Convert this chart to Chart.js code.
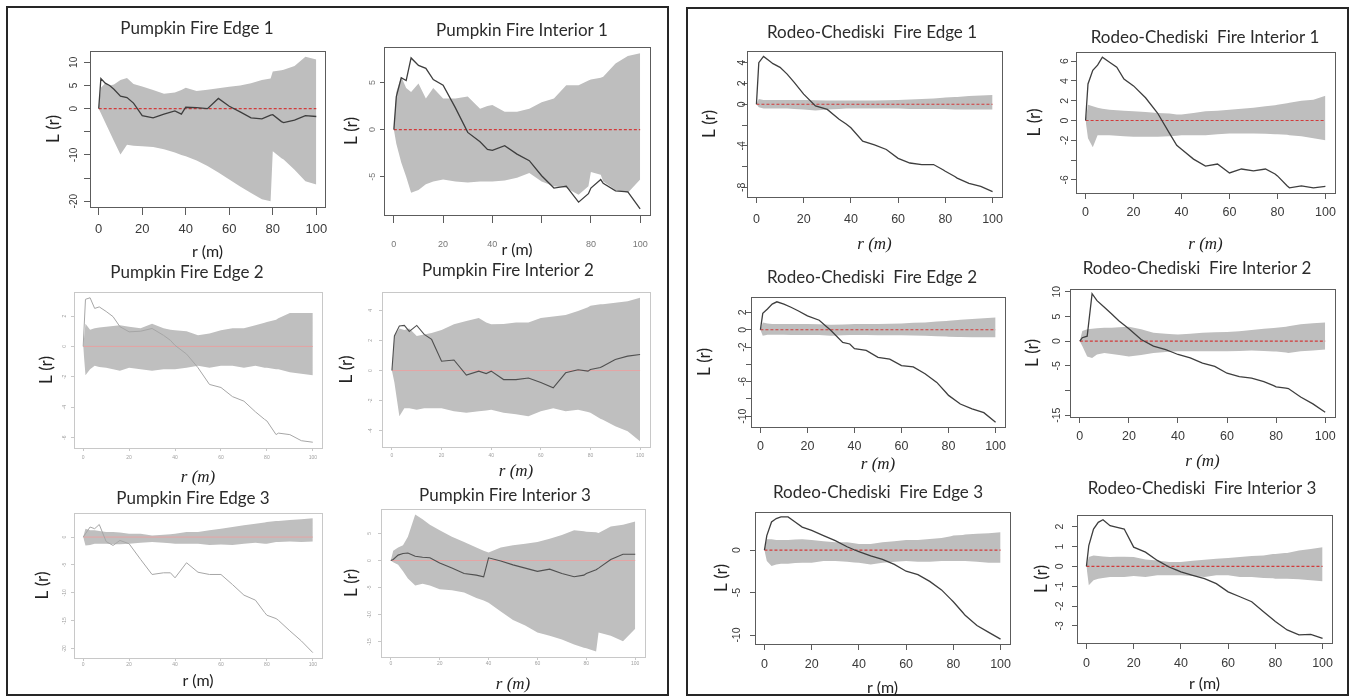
<!DOCTYPE html>
<html>
<head>
<meta charset="utf-8">
<script src="https://cdn.jsdelivr.net/npm/chart.js@4.4.1/dist/chart.umd.min.js"></script>
<style>
  html, body { margin: 0; padding: 0; background: #fff; overflow: hidden; }
  body { position: relative; width: 1351px; height: 697px; }
  canvas { position: absolute; }
  .frame { position: absolute; border: 2px solid #262626; box-sizing: border-box; }
</style>
</head>
<body>
<div class="frame" style="left:6px;top:6px;width:663px;height:690px"></div>
<div class="frame" style="left:686px;top:7px;width:663px;height:689px"></div>
<script>
// distance r (m), shared by every panel
const rVals = [0,1,3,5,7,10,13,16,20,25,30,35,38,40,45,50,55,60,65,70,75,79,80,84,85,90,95,100];
const xTicks = [0,20,40,60,80,100];
// theoretical L(r) = 0 reference
const refR = [0, 100];
const refL = [0, 0];

// Pumpkin Fire Edge 1
const pumpkinEdge1Upper = [0,4.5,5.5,5,5.2,6.2,6.6,5.3,4.8,4,3.2,3.5,4,4.5,3.8,4.1,4.4,4.7,5,5.5,6.2,6.5,8,8.3,8.4,9.2,11.2,10.6];
const pumpkinEdge1Lower = [0,-1,-3,-5,-7,-9.9,-7.8,-8,-8.1,-8.3,-8.8,-9.5,-10,-10.3,-11.2,-12.4,-13.8,-15.3,-16.8,-18.2,-19.6,-20,-9.2,-10.7,-11,-13.2,-15.7,-16.4];
const pumpkinEdge1Obs = [0,6.5,5.5,5,4.2,2.7,2.4,1.2,-1.5,-2,-1.2,-0.5,-1.2,0.3,0.2,0,2.2,0.5,-0.7,-2,-2.2,-1.4,-1.3,-2.8,-3,-2.5,-1.5,-1.7];

// Pumpkin Fire Interior 1
const pumpkinInt1Upper = [0,4,5.6,4.4,4,4.9,3.3,4.4,3.3,3.3,3.5,2.2,2.5,2.6,1.9,1.9,2.2,2.9,3.3,4.7,4.7,5.2,5.3,5.5,5.6,7,7.8,8.1];
const pumpkinInt1Lower = [0,-1.5,-3.5,-5,-6.7,-6.4,-5.8,-5.5,-5.3,-5.5,-5.6,-5.5,-5.5,-5.5,-5.4,-5.1,-4.6,-5.5,-6,-6.2,-6.9,-6,-4.5,-4.8,-5.5,-6.4,-6.7,-5.3];
const pumpkinInt1Obs = [0,3.5,5.5,5.2,7.6,6.8,6.5,5.3,4.7,2.3,-0.3,-1.3,-2.1,-2.2,-1.7,-2.6,-3.3,-4.9,-6.2,-6,-7.7,-6.8,-6.2,-5.3,-5.7,-6.5,-6.6,-8.4];

// Pumpkin Fire Edge 2
const pumpkinEdge2Upper = [0,1.5,1.1,1.2,1.25,1.3,1.35,1.4,1.3,1.2,1.5,1.2,1.1,1.07,1,0.73,0.85,1.07,1.2,1.2,1.4,1.55,1.6,1.75,1.85,2.2,2.2,2.2];
const pumpkinEdge2Lower = [0,-1.9,-1.5,-1.27,-1.35,-1.4,-1.5,-1.6,-1.4,-1.5,-1.6,-1.5,-1.5,-1.5,-1.4,-1.27,-1.4,-1.27,-1.27,-1.4,-1.27,-1.4,-1.4,-1.5,-1.5,-1.7,-1.8,-1.9];
const pumpkinEdge2Obs = [0,3.1,3.2,2.5,2.6,2.3,1.96,1.3,0.96,1.0,1.18,0.73,0.4,0.07,-0.5,-1.4,-2.5,-2.7,-3.3,-3.6,-4.3,-4.8,-4.9,-5.8,-5.7,-5.8,-6.2,-6.3];

// Pumpkin Fire Interior 2
const pumpkinInt2Upper = [0,2.3,2.8,2.7,2.8,2.3,2.4,2.5,2.7,3.07,3.3,3.5,3.2,3.07,3.1,3.2,3.2,3.5,3.6,3.7,3.96,4.2,4.3,4.4,4.4,4.5,4.6,4.84];
const pumpkinInt2Lower = [0,-0.8,-3.04,-2.5,-2.5,-2.6,-2.5,-2.5,-2.5,-2.7,-2.8,-2.7,-2.65,-2.6,-2.8,-2.9,-3.04,-2.7,-2.5,-2.7,-2.6,-2.75,-2.8,-3.2,-3.27,-3.7,-4.04,-4.7];
const pumpkinInt2Obs = [0,2.3,2.96,3.0,2.6,3.0,2.4,2.07,0.62,0.7,-0.3,-0.04,-0.2,-0.04,-0.6,-0.6,-0.5,-0.8,-1.15,-0.15,0.05,-0.04,0.07,0.2,0.29,0.73,0.96,1.07];

// Pumpkin Fire Edge 3
const pumpkinEdge3Upper = [0,1.5,1.2,1.2,1.1,0.9,0.9,0.8,0.6,0.6,0.3,0.4,0.5,0.6,0.9,0.9,1.2,1.5,1.8,2.1,2.4,2.6,2.7,2.9,2.9,3.05,3.2,3.35];
const pumpkinEdge3Lower = [0,-1.5,-1.4,-1.2,-1.2,-1.2,-1.3,-1.3,-1.2,-1.0,-0.9,-1.0,-1.1,-1.2,-1.2,-1.2,-1.4,-1.35,-1.4,-1.2,-1.0,-1.2,-1.2,-0.9,-0.9,-0.8,-0.9,-0.8];
const pumpkinEdge3Obs = [0,0.6,1.8,1.5,2.25,-0.8,-1.5,-0.6,-1.2,-4,-6.7,-6.4,-6.4,-7.3,-4.6,-6.3,-6.7,-6.7,-8.5,-10.4,-11.3,-13.5,-14,-14.6,-14.9,-16.8,-18.6,-20.7];

// Pumpkin Fire Interior 3
const pumpkinInt3Upper = [0,1.8,2.4,2.8,4.4,8.5,7.6,6.6,5.6,4.4,3.4,2.4,1.8,1.5,2.4,2.8,3.1,3.4,4.0,4.7,5.6,5.4,5.3,5.2,5.1,6.3,6.6,7.2];
const pumpkinInt3Lower = [0,-0.3,-0.8,-2,-3.3,-4.6,-4.3,-4.6,-5.3,-5.5,-5.9,-6.9,-7.4,-7.8,-9.4,-11,-12,-13.3,-13.9,-14.6,-15.5,-16.1,-16.2,-16.8,-13.3,-13.9,-14.9,-12.6];
const pumpkinInt3Obs = [0,0.2,1.0,1.3,1.4,0.8,0.6,0.5,-0.45,-1.4,-2.4,-2.7,-3.0,0.5,-0.1,-0.8,-1.4,-2,-1.6,-2.4,-3,-2.7,-2.4,-1.7,-1.4,0.2,1.15,1.15];

// Rodeo-Chediski Fire Edge 1
const rodeoEdge1Upper = [0,0.5,0.4,0.4,0.4,0.4,0.4,0.4,0.4,0.38,0.35,0.35,0.35,0.35,0.35,0.35,0.38,0.4,0.45,0.5,0.55,0.62,0.65,0.7,0.7,0.8,0.85,0.9];
const rodeoEdge1Lower = [0,-0.3,-0.4,-0.4,-0.4,-0.4,-0.4,-0.45,-0.5,-0.6,-0.5,-0.45,-0.4,-0.4,-0.4,-0.4,-0.4,-0.4,-0.45,-0.45,-0.45,-0.45,-0.45,-0.5,-0.5,-0.5,-0.5,-0.5];
const rodeoEdge1Obs = [0,4.0,4.6,4.25,3.9,3.55,2.9,2.1,0.97,-0.16,-0.5,-1.45,-1.9,-2.26,-3.55,-3.9,-4.35,-5.2,-5.65,-5.8,-5.8,-6.3,-6.45,-6.95,-7.1,-7.6,-7.9,-8.4];

// Rodeo-Chediski Fire Interior 1
const rodeoInt1Upper = [0,1.6,1.45,1.3,1.2,1.1,1.05,1.0,0.93,0.85,0.76,0.7,0.62,0.6,0.75,0.93,1.0,1.1,1.2,1.3,1.45,1.55,1.6,1.75,1.8,2.0,2.1,2.5];
const rodeoInt1Lower = [0,-1.8,-2.7,-1.5,-1.5,-1.5,-1.55,-1.6,-1.65,-1.65,-1.65,-1.6,-1.55,-1.5,-1.5,-1.5,-1.4,-1.3,-1.3,-1.3,-1.35,-1.4,-1.4,-1.45,-1.5,-1.6,-1.8,-2.0];
const rodeoInt1Obs = [0,3.7,5.07,5.6,6.4,5.9,5.4,4.2,3.5,2.3,0.76,-1.3,-2.5,-2.9,-3.9,-4.6,-4.4,-5.3,-4.9,-5.1,-4.9,-5.4,-5.6,-6.6,-6.8,-6.6,-6.8,-6.65];

// Rodeo-Chediski Fire Edge 2
const rodeoEdge2Upper = [0,0.85,0.73,0.65,0.65,0.65,0.65,0.65,0.65,0.62,0.58,0.6,0.62,0.65,0.65,0.65,0.68,0.73,0.8,0.85,0.95,1.0,1.04,1.12,1.15,1.23,1.33,1.42];
const rodeoEdge2Lower = [0,-0.7,-0.58,-0.58,-0.58,-0.58,-0.6,-0.6,-0.6,-0.62,-0.7,-0.65,-0.62,-0.6,-0.6,-0.65,-0.65,-0.65,-0.68,-0.7,-0.75,-0.78,-0.8,-0.85,-0.85,-0.88,-0.88,-0.88];
const rodeoEdge2Obs = [0,1.9,2.4,2.96,3.23,2.96,2.6,2.2,1.6,1.1,-0.1,-1.46,-1.65,-2.2,-2.4,-3.2,-3.4,-4.15,-4.3,-5.1,-6.1,-7.3,-7.6,-8.4,-8.6,-9.15,-9.6,-10.7];

// Rodeo-Chediski Fire Interior 2
const rodeoInt2Upper = [0,2.05,2.4,2.5,2.6,2.7,2.7,2.8,2.9,2.4,1.7,1.5,1.4,1.37,1.5,1.7,1.8,1.85,2.0,2.26,2.5,2.65,2.7,2.9,3.0,3.4,3.6,3.77];
const rodeoInt2Lower = [0,-1.0,-3.1,-3.4,-2.7,-2.4,-2.6,-2.8,-3.1,-2.8,-2.4,-2.2,-2.1,-2.05,-2.05,-2.05,-2.05,-2.05,-2.0,-1.9,-2.0,-2.1,-2.1,-2.3,-2.4,-2.05,-1.9,-1.7];
const rodeoInt2Obs = [0,0.7,1.0,9.6,8.2,6.85,5.5,4.1,2.5,0.34,-1.0,-1.7,-2.3,-2.7,-3.4,-4.45,-5.1,-6.5,-7.2,-7.5,-8.2,-9.0,-9.25,-9.5,-9.6,-11.3,-12.7,-14.4];

// Rodeo-Chediski Fire Edge 3
const rodeoEdge3Upper = [0,1.3,1.3,1.2,1.2,1.2,1.25,1.3,1.2,1.04,0.92,0.92,0.8,0.72,0.72,0.92,1.04,1.2,1.2,1.32,1.44,1.65,1.72,1.8,1.84,1.92,2.0,2.12];
const rodeoEdge3Lower = [0,-1.28,-1.88,-1.68,-1.6,-1.6,-1.5,-1.48,-1.48,-1.28,-1.28,-1.36,-1.44,-1.48,-1.68,-1.48,-1.36,-1.28,-1.36,-1.36,-1.28,-1.28,-1.28,-1.28,-1.28,-1.36,-1.48,-1.48];
const rodeoEdge3Obs = [0,1.72,3.32,3.72,3.92,3.92,3.32,2.72,2.32,1.72,1.12,0.4,0.05,-0.16,-0.68,-1.08,-1.68,-2.48,-2.88,-3.68,-4.68,-5.8,-6.08,-7.35,-7.68,-8.88,-9.68,-10.48];

// Rodeo-Chediski Fire Interior 3
const rodeoInt3Upper = [0,0.47,0.55,0.52,0.5,0.47,0.48,0.48,0.47,0.35,0.3,0.22,0.22,0.22,0.28,0.33,0.38,0.42,0.47,0.52,0.55,0.62,0.63,0.67,0.68,0.8,0.88,0.97];
const rodeoInt3Lower = [0,-0.95,-0.7,-0.62,-0.58,-0.53,-0.53,-0.53,-0.48,-0.53,-0.45,-0.45,-0.45,-0.45,-0.48,-0.53,-0.45,-0.45,-0.53,-0.53,-0.58,-0.6,-0.62,-0.62,-0.62,-0.65,-0.7,-0.75];
const rodeoInt3Obs = [0,1.05,1.88,2.22,2.35,2.05,1.97,1.88,0.97,0.72,0.3,-0.03,-0.18,-0.28,-0.45,-0.62,-0.87,-1.28,-1.53,-1.78,-2.28,-2.68,-2.78,-3.12,-3.2,-3.45,-3.42,-3.62];

// y tick positions and which of them carry a label
const pe1YTicks = [-20,-15,-10,-5,0,5,10], pe1YLabels = [-20,-10,0,5,10];
const pi1YTicks = [-5,0,5];
const pe2YTicks = [-6,-4,-2,0,2];
const pi2YTicks = [-4,-2,0,2,4];
const pe3YTicks = [-20,-15,-10,-5,0];
const pi3YTicks = [-15,-10,-5,0,5];
const re1YTicks = [-8,-6,-4,-2,0,2,4], re1YLabels = [-8,-4,0,2,4];
const ri1YTicks = [-6,-4,-2,0,2,4,6], ri1YLabels = [-6,-2,0,2,4,6];
const re2YTicks = [-10,-8,-6,-4,-2,0,2], re2YLabels = [-10,-6,-2,0,2];
const ri2YTicks = [-15,-10,-5,0,5,10], ri2YLabels = [-15,-5,0,5,10];
const re3YTicks = [-10,-5,0];
const ri3YTicks = [-3,-2,-1,0,1,2];

const looks = {
  crisp: { band: '#bebebe', obs: '#3e3e3e', obsW: 1.3, ref: '#d23a3a', refW: 1.2, refDash: [3, 2],
           frame: '#5c5c5c', tickCol: '#3a3a3a' },
  pale:  { band: '#bfbfbf', obs: '#a6a6a6', obsW: 1, ref: '#e6a4a4', refW: 1, refDash: [],
           frame: '#c8c8c8', tickCol: '#a0a0a0' },
  paleDark: { band: '#bfbfbf', obs: '#505050', obsW: 1.1, ref: '#e6a4a4', refW: 1, refDash: [],
           frame: '#c8c8c8', tickCol: '#a0a0a0' }
};

const panels = [
  { title: 'Pumpkin Fire Edge 1', hi: pumpkinEdge1Upper, lo: pumpkinEdge1Lower, obs: pumpkinEdge1Obs,
    yTicks: pe1YTicks, yLabels: pe1YLabels, xLabels: xTicks, look: 'crisp', xFont: 'sans',
    box: [90, 51, 325, 207], titleX: 197, titleY: 28, yLabX: 54, yTickX: 74, xTickY: 229, xLabY: 251,
    xSize: 13, ySize: 10, xLen: 8, yLen: 6 },
  { title: 'Pumpkin Fire Interior 1', hi: pumpkinInt1Upper, lo: pumpkinInt1Lower, obs: pumpkinInt1Obs,
    yTicks: pi1YTicks, yLabels: pi1YTicks, xLabels: [0,20,40,80,100], look: 'crisp', xFont: 'sans',
    box: [384, 47, 650, 215], titleX: 522, titleY: 30, yLabX: 352, yTickX: 373, xTickY: 245, xLabY: 249,
    xSize: 9, ySize: 9, xLen: 8, yLen: 4, tickCol: '#777' },
  { title: 'Pumpkin Fire Edge 2', hi: pumpkinEdge2Upper, lo: pumpkinEdge2Lower, obs: pumpkinEdge2Obs,
    yTicks: pe2YTicks, yLabels: pe2YTicks, xLabels: xTicks, look: 'pale', xFont: 'serif',
    box: [74, 292, 322, 448], titleX: 187, titleY: 272, yLabX: 47, yTickX: 65, xTickY: 458, xLabY: 478,
    xSize: 5, ySize: 5, xLen: 3, yLen: 3 },
  { title: 'Pumpkin Fire Interior 2', hi: pumpkinInt2Upper, lo: pumpkinInt2Lower, obs: pumpkinInt2Obs,
    yTicks: pi2YTicks, yLabels: pi2YTicks, xLabels: xTicks, look: 'paleDark', xFont: 'serif',
    box: [382, 292, 650, 447], titleX: 508, titleY: 270, yLabX: 347, yTickX: 371, xTickY: 456, xLabY: 472,
    xSize: 5, ySize: 5, xLen: 3, yLen: 3 },
  { title: 'Pumpkin Fire Edge 3', hi: pumpkinEdge3Upper, lo: pumpkinEdge3Lower, obs: pumpkinEdge3Obs,
    yTicks: pe3YTicks, yLabels: pe3YTicks, xLabels: xTicks, look: 'pale', xFont: 'sans',
    box: [74, 513, 322, 658], titleX: 193, titleY: 498, yLabX: 43, yTickX: 65, xTickY: 665, xLabY: 680,
    xSize: 5, ySize: 5, xLen: 3, yLen: 3 },
  { title: 'Pumpkin Fire Interior 3', hi: pumpkinInt3Upper, lo: pumpkinInt3Lower, obs: pumpkinInt3Obs,
    yTicks: pi3YTicks, yLabels: pi3YTicks, xLabels: xTicks, look: 'paleDark', xFont: 'serif',
    box: [381, 509, 645, 657], titleX: 505, titleY: 495, yLabX: 352, yTickX: 370, xTickY: 664, xLabY: 685,
    xSize: 5, ySize: 5, xLen: 3, yLen: 3 },
  { title: 'Rodeo-Chediski  Fire Edge 1', hi: rodeoEdge1Upper, lo: rodeoEdge1Lower, obs: rodeoEdge1Obs,
    yTicks: re1YTicks, yLabels: re1YLabels, xLabels: xTicks, look: 'crisp', xFont: 'serif',
    box: [747, 51, 1002, 197], titleX: 872, titleY: 32, yLabX: 710, yTickX: 742, xTickY: 220, xLabY: 245,
    xSize: 12.5, ySize: 10.5, xLen: 6, yLen: 5 },
  { title: 'Rodeo-Chediski  Fire Interior 1', hi: rodeoInt1Upper, lo: rodeoInt1Lower, obs: rodeoInt1Obs,
    yTicks: ri1YTicks, yLabels: ri1YLabels, xLabels: xTicks, look: 'crisp', xFont: 'serif',
    box: [1076, 52, 1335, 193], titleX: 1205, titleY: 37, yLabX: 1035, yTickX: 1065, xTickY: 213, xLabY: 245,
    xSize: 12.5, ySize: 10.5, xLen: 6, yLen: 5 },
  { title: 'Rodeo-Chediski  Fire Edge 2', hi: rodeoEdge2Upper, lo: rodeoEdge2Lower, obs: rodeoEdge2Obs,
    yTicks: re2YTicks, yLabels: re2YLabels, xLabels: xTicks, look: 'crisp', xFont: 'serif',
    box: [751, 297, 1005, 427], titleX: 872, titleY: 277, yLabX: 705, yTickX: 743, xTickY: 447, xLabY: 465,
    xSize: 12.5, ySize: 10.5, xLen: 6, yLen: 5 },
  { title: 'Rodeo-Chediski  Fire Interior 2', hi: rodeoInt2Upper, lo: rodeoInt2Lower, obs: rodeoInt2Obs,
    yTicks: ri2YTicks, yLabels: ri2YLabels, xLabels: xTicks, look: 'crisp', xFont: 'serif',
    box: [1070, 289, 1335, 417], titleX: 1197, titleY: 268, yLabX: 1033, yTickX: 1057, xTickY: 437, xLabY: 462,
    xSize: 12.5, ySize: 10.5, xLen: 6, yLen: 5 },
  { title: 'Rodeo-Chediski  Fire Edge 3', hi: rodeoEdge3Upper, lo: rodeoEdge3Lower, obs: rodeoEdge3Obs,
    yTicks: re3YTicks, yLabels: re3YTicks, xLabels: xTicks, look: 'crisp', xFont: 'sans',
    box: [755, 512, 1010, 644], titleX: 878, titleY: 492, yLabX: 722, yTickX: 737, xTickY: 665, xLabY: 687,
    xSize: 12.5, ySize: 10.5, xLen: 6, yLen: 5 },
  { title: 'Rodeo-Chediski  Fire Interior 3', hi: rodeoInt3Upper, lo: rodeoInt3Lower, obs: rodeoInt3Obs,
    yTicks: ri3YTicks, yLabels: ri3YTicks, xLabels: xTicks, look: 'crisp', xFont: 'sans',
    box: [1077, 515, 1332, 643], titleX: 1202, titleY: 488, yLabX: 1042, yTickX: 1060, xTickY: 664, xLabY: 683,
    xSize: 12.5, ySize: 10.5, xLen: 6, yLen: 5 }
];

const NARROW = '"Liberation Sans Narrow", "Liberation Sans", sans-serif';

// R-style rotated y tick labels, placed with the chart's own y scale
const rTickLabels = {
  id: 'rTickLabels',
  afterDraw(chart, args, o) {
    const s = chart.scales.y, ctx = chart.ctx;
    ctx.save();
    ctx.fillStyle = o.color;
    ctx.font = o.size + 'px ' + NARROW;
    ctx.textAlign = 'center';
    ctx.textBaseline = 'middle';
    o.values.forEach(v => {
      ctx.save();
      ctx.translate(o.x, s.getPixelForValue(v));
      ctx.rotate(-Math.PI / 2);
      ctx.fillText(String(v), 0, 0);
      ctx.restore();
    });
    ctx.restore();
  }
};

// box around the plot region
const plotFrame = {
  id: 'plotFrame',
  afterDraw(chart, args, o) {
    const a = chart.chartArea, ctx = chart.ctx;
    ctx.save();
    ctx.strokeStyle = o.color;
    ctx.lineWidth = 1;
    ctx.strokeRect(Math.round(a.left) + 0.5, Math.round(a.top) + 0.5,
                   Math.round(a.right - a.left), Math.round(a.bottom - a.top));
    ctx.restore();
  }
};

Chart.defaults.font.family = 'Lato';

const pts = arr => rVals.map((r, i) => ({ x: r, y: arr[i] }));

panels.forEach(p => {
  const [bl, bt, br, bb] = p.box;
  const look = looks[p.look];
  const titleLH = 17 * 1.2;
  const xTitleSize = p.xFont === 'serif' ? 17 : 16;
  const xTitleLH = xTitleSize * 1.2;

  const left = Math.round(p.yLabX - 15);
  const right = Math.round(Math.max(2 * p.titleX - left, br + 4));
  const top = Math.round(p.titleY - titleLH / 2);
  const bottom = Math.round(p.xLabY + xTitleLH / 2);

  const cv = document.createElement('canvas');
  cv.width = right - left;
  cv.height = bottom - top;
  cv.style.left = left + 'px';
  cv.style.top = top + 'px';
  document.body.appendChild(cv);

  const all = p.hi.concat(p.lo, p.obs);
  const yLo = Math.min(...all), yHi = Math.max(...all);
  const ext = 0.04 * (yHi - yLo);
  const tickCol = p.tickCol || look.tickCol;

  new Chart(cv, {
    type: 'line',
    data: {
      datasets: [
        { data: pts(p.hi), borderWidth: 0, borderColor: 'transparent', backgroundColor: look.band,
          fill: '+1', pointRadius: 0, order: 2 },
        { data: pts(p.lo), borderWidth: 0, borderColor: 'transparent', fill: false, pointRadius: 0, order: 2 },
        { data: refR.map((r, i) => ({ x: r, y: refL[i] })), borderColor: look.ref, borderWidth: look.refW,
          borderDash: look.refDash, fill: false, pointRadius: 0, order: 1 },
        { data: pts(p.obs), borderColor: look.obs, borderWidth: look.obsW, fill: false,
          pointRadius: 0, tension: 0, order: 0 }
      ]
    },
    options: {
      responsive: false,
      animation: false,
      events: [],
      layout: { padding: 0 },
      plugins: {
        legend: { display: false },
        tooltip: { enabled: false },
        title: {
          display: true, text: p.title, color: '#2b2b2b',
          font: { family: 'Lato', size: 17, weight: 'normal' },
          padding: { top: 0, bottom: bt - top - titleLH }
        },
        rTickLabels: { values: p.yLabels, x: p.yTickX - left, size: p.ySize, color: tickCol },
        plotFrame: { color: look.frame }
      },
      scales: {
        x: {
          type: 'linear', min: -4, max: 104, bounds: 'data',
          afterBuildTicks: s => { s.ticks = xTicks.map(v => ({ value: v })); },
          afterFit: s => { s.height = bottom - bb; },
          grid: { drawOnChartArea: false, drawTicks: true, tickLength: p.xLen, color: look.frame },
          border: { display: false },
          ticks: {
            autoSkip: false, maxRotation: 0, color: tickCol,
            font: { family: NARROW, size: p.xSize },
            padding: p.xTickY - bb - p.xLen - 0.6 * p.xSize,
            callback: v => p.xLabels.includes(v) ? String(v) : ''
          },
          title: {
            display: true, text: 'r (m)', color: '#222',
            font: p.xFont === 'serif'
              ? { family: '"Liberation Serif", serif', style: 'italic', size: xTitleSize }
              : { family: 'Lato', size: xTitleSize },
            padding: { top: 0, bottom: 0 }
          }
        },
        y: {
          type: 'linear', min: yLo - ext, max: yHi + ext, bounds: 'data',
          afterBuildTicks: s => { s.ticks = p.yTicks.map(v => ({ value: v })); },
          afterFit: s => { s.width = bl - left; },
          grid: { drawOnChartArea: false, drawTicks: true, tickLength: p.yLen, color: look.frame },
          border: { display: false },
          ticks: { display: false },
          title: {
            display: true, text: 'L (r)', color: '#222',
            font: { family: 'Lato', size: 17 },
            padding: { top: 15 - 17 * 1.2 / 2, bottom: 0 }
          }
        },
        // empty right-hand gutter so the panel title can sit off-centre like the original
        gutter: {
          type: 'linear', position: 'right', display: true,
          grid: { display: false }, border: { display: false }, ticks: { display: false },
          afterFit: s => { s.width = right - br; }
        }
      }
    },
    plugins: [rTickLabels, plotFrame]
  });
});
</script>
</body>
</html>
